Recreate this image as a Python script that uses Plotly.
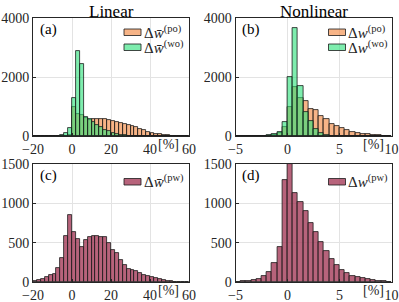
import plotly.graph_objects as go

# ---------------- data ----------------
lin_edges = list(range(-20, 61, 2))            # bin edges, Linear panels [%]
nl_edges = [e / 2 for e in range(-10, 21)]      # bin edges, Nonlinear panels [%]

lin_po = [0, 0, 0, 0, 0, 0, 0, 0, 5, 20, 1000, 750, 700, 620, 540, 560, 575, 580, 560, 530,
          500, 475, 450, 418, 380, 340, 300, 250, 195, 150, 113, 80, 56, 34, 22, 12, 6, 3, 1, 0]
lin_wo = [0, 0, 0, 0, 0, 2, 5, 30, 100, 280, 1290, 2870, 2430, 650, 560, 480, 380, 300, 220, 160,
          110, 70, 45, 25, 15, 8, 4, 2, 1, 0, 0, 0, 0, 0, 0, 0, 0, 0, 0, 0]
lin_pw = [15, 30, 40, 60, 85, 105, 180, 300, 583, 850, 640, 545, 445, 530, 575, 585, 580, 578, 578, 495,
          405, 375, 280, 215, 165, 150, 140, 110, 85, 70, 58, 45, 32, 22, 14, 9, 5, 3, 2, 1]

nl_po = [0, 0, 0, 0, 0, 5, 15, 40, 100, 300, 1000, 1650, 1300, 1175, 920, 870, 690, 565, 420, 340,
         270, 190, 150, 110, 80, 55, 35, 20, 10, 5]
nl_wo = [0, 0, 0, 0, 0, 10, 20, 55, 135, 460, 2000, 3660, 1700, 800, 500, 250, 100, 35, 10, 3,
         0, 0, 0, 0, 0, 0, 0, 0, 0, 0]
nl_pw = [2, 8, 15, 30, 42, 75, 130, 245, 445, 1300, 1495, 1135, 1015, 900, 750, 630, 510, 395, 290, 212,
         155, 112, 78, 62, 50, 38, 20, 8, 10, 5]

titles = ["Linear", "Nonlinear"]
panel_tags = ["(a)", "(b)", "(c)", "(d)"]
lin_ticks = [-20, 0, 20, 40, 60]
nl_ticks = [-5, 0, 5, 10]
top_yticks = [0, 2000, 4000]
bot_yticks = [0, 500, 1000, 1500]

# ---------------- style ----------------
FONT = "Liberation Serif"
C_PO = "rgba(242,140,70,0.65)"
C_WO = "rgba(40,225,120,0.6)"
C_PW = "rgba(165,60,90,0.8)"
EDGE = "#1a1a1a"

def centers(edges):
    return [(a + b) / 2 for a, b in zip(edges[:-1], edges[1:])]

def widths(edges):
    return [b - a for a, b in zip(edges[:-1], edges[1:])]

fig = go.Figure()

def add_hist(edges, vals, color, name, xa, ya):
    fig.add_trace(go.Bar(
        x=centers(edges), y=vals, width=widths(edges),
        marker=dict(color=color, line=dict(color=EDGE, width=0.8)),
        name=name, xaxis=xa, yaxis=ya, showlegend=False))

lab_lin_po = "Δ<i>w̄</i><sup>(po)</sup>"
lab_lin_wo = "Δ<i>w̄</i><sup>(wo)</sup>"
lab_lin_pw = "Δ<i>w̄</i><sup>(pw)</sup>"
lab_nl_po = "Δ<i>w</i><sup>(po)</sup>"
lab_nl_wo = "Δ<i>w</i><sup>(wo)</sup>"
lab_nl_pw = "Δ<i>w</i><sup>(pw)</sup>"

add_hist(lin_edges, lin_po, C_PO, lab_lin_po, "x", "y")
add_hist(lin_edges, lin_wo, C_WO, lab_lin_wo, "x", "y")
add_hist(nl_edges, nl_po, C_PO, lab_nl_po, "x2", "y2")
add_hist(nl_edges, nl_wo, C_WO, lab_nl_wo, "x2", "y2")
add_hist(lin_edges, lin_pw, C_PW, lab_lin_pw, "x3", "y3")
add_hist(nl_edges, nl_pw, C_PW, lab_nl_pw, "x4", "y4")

W, H = 399, 302
def px(xp):
    return xp / W
def py(yp):
    return 1 - yp / H

xl = [px(33), px(189)]
xr = [px(235.5), px(391.5)]
yt = [py(136), py(18)]
yb = [py(282), py(164)]

axis_common = dict(showline=True, mirror=True, linecolor="#262626", linewidth=1,
                   ticks="inside", ticklen=3, tickcolor="#262626", automargin=False,
                   showgrid=True, gridcolor="#e3e3e3", gridwidth=1, zeroline=False,
                   tickfont=dict(family=FONT, size=14, color="#262626"))

def xaxis(domain, rng, ticks, anchor):
    d = dict(axis_common)
    d.update(domain=domain, range=rng, tickvals=ticks, anchor=anchor,
             ticklabelstandoff=0)
    return d

def yaxis(domain, rng, ticks, anchor):
    d = dict(axis_common)
    d.update(domain=domain, range=rng, tickvals=ticks, anchor=anchor,
             ticklabelstandoff=0)
    return d

fig.update_layout(
    width=W, height=H, margin=dict(l=0, r=0, t=0, b=0, autoexpand=False),
    paper_bgcolor="white", plot_bgcolor="white",
    barmode="overlay", bargap=0, showlegend=False,
    font=dict(family=FONT, size=14, color="#262626"),
    xaxis=xaxis(xl, [-20, 60], lin_ticks, "y"),
    yaxis=yaxis(yt, [0, 4000], top_yticks, "x"),
    xaxis2=xaxis(xr, [-5, 10], nl_ticks, "y2"),
    yaxis2=yaxis(yt, [0, 4000], top_yticks, "x2"),
    xaxis3=xaxis(xl, [-20, 60], lin_ticks, "y3"),
    yaxis3=yaxis(yb, [0, 1500], bot_yticks, "x3"),
    xaxis4=xaxis(xr, [-5, 10], nl_ticks, "y4"),
    yaxis4=yaxis(yb, [0, 1500], bot_yticks, "x4"),
)

# legends: patch + label, positioned in pixels
legend_items = [
    # (patch left x, patch top y, color, label)
    (124, 29, C_PO, lab_lin_po),
    (124, 44, C_WO, lab_lin_wo),
    (328.5, 29, C_PO, lab_nl_po),
    (328.5, 44, C_WO, lab_nl_wo),
    (124, 178.5, C_PW, lab_lin_pw),
    (328.5, 178.5, C_PW, lab_nl_pw),
]
PW_, PH_ = 17, 6.5
for lx, ly, col, lab in legend_items:
    fig.add_shape(type="rect", xref="paper", yref="paper",
                  x0=px(lx), x1=px(lx + PW_), y0=py(ly + PH_), y1=py(ly),
                  fillcolor=col, line=dict(color=EDGE, width=0.8))
    fig.add_annotation(text=lab, x=px(lx + PW_ + 0.5), y=py(ly + PH_ / 2 - 0.5),
                       xref="paper", yref="paper", xanchor="left", yanchor="middle",
                       showarrow=False, font=dict(family=FONT, size=15, color="#262626"))

# titles
for t, dom in zip(titles, [xl, xr]):
    fig.add_annotation(text=t, x=(dom[0] + dom[1]) / 2, y=py(0), xref="paper", yref="paper",
                       xanchor="center", yanchor="top", showarrow=False,
                       font=dict(family=FONT, size=17, color="black"))

# panel tags
for tag, xa, ya in zip(panel_tags, ["x", "x2", "x3", "x4"], ["y", "y2", "y3", "y4"]):
    fig.add_annotation(text=tag, x=0.03, y=0.99, xref=xa + " domain", yref=ya + " domain",
                       xanchor="left", yanchor="top", showarrow=False,
                       font=dict(family=FONT, size=15, color="black"))

# unit labels
for xa, ya, xv in [("x", "y", 49.5), ("x2", "y2", 8.3), ("x3", "y3", 49.5), ("x4", "y4", 8.3)]:
    fig.add_annotation(text="[%]", x=xv, y=0, xref=xa, yref=ya + " domain",
                       xanchor="center", yanchor="top", yshift=1, showarrow=False,
                       font=dict(family=FONT, size=14, color="#262626"))

fig.write_html("out.html", config={"displayModeBar": False},
               post_script="document.body.style.margin='0px';document.body.style.overflow='hidden';")
